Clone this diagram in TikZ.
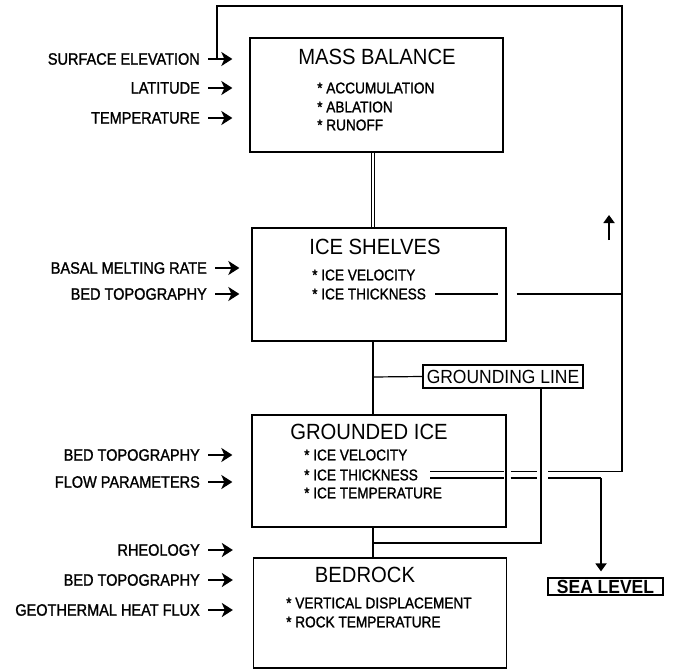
\documentclass[tikz,border=0pt]{standalone}
\usepackage{fontspec}
\setmainfont{Liberation Sans}
\newfontfamily\letterfont{Liberation Sans}[FakeStretch=0.88,FakeBold=1.3]
\newfontfamily\titlefont{Liberation Sans}[FakeStretch=0.92]
\usetikzlibrary{positioning,arrows.meta,calc}
\tikzset{
stage/.style={
draw,
line width=1.3pt,
minimum width=254pt,
inner sep=0pt
},
stagetitle/.style={
inner sep=0pt,
font=\titlefont\fontsize{22}{24}\selectfont
},
item/.style={
anchor=west,
inner sep=0pt,
font=\letterfont\fontsize{15.5}{17}\selectfont
},
input/.style={
anchor=east,
inner sep=3pt,
font=\letterfont\fontsize{16.5}{18}\selectfont
},
inarrow/.style={
-{Stealth[length=11pt,width=14pt,inset=3pt]},
line width=2.6pt,
shorten <=5pt,
shorten >=17pt
},
link/.style={
line width=1.2pt
},
flowarrow/.style={
-{Triangle[length=8pt,width=11pt]},
line width=1.8pt
},
tag/.style={
draw,
line width=1.2pt,
inner sep=0pt
}
}
\begin{document}
\begin{tikzpicture}[x=1pt,y=-1pt]
\useasboundingbox (0,0) rectangle (674,671);

% model components
\node[stage,minimum width=253pt,minimum height=114pt](mb) at (376.5,95){};
\node[stage,minimum height=113pt](is) at (379,284.5){};
\node[stage,minimum height=112pt](gi) at (379,471){};
\node[stage,minimum width=253pt,minimum height=110pt](br) at (380,613){};

\node[stagetitle](mbt) at (377,57){MASS BALANCE};
\node[stagetitle](ist) at (375,247){ICE SHELVES};
\node[stagetitle](git) at (369,432){GROUNDED ICE};
\node[stagetitle](brt) at (365,575){BEDROCK};

\node[item](mbacc) at (317,88){* ACCUMULATION};
\node[item](mbabl) at (317,107){* ABLATION};
\node[item](mbrun) at (317,125){* RUNOFF};
\node[item](isvel) at (312,275){* ICE VELOCITY};
\node[item](isthk) at (312,294){* ICE THICKNESS};
\node[item](givel) at (304,455){* ICE VELOCITY};
\node[item](githk) at (304,475){* ICE THICKNESS};
\node[item](gitmp) at (304,493){* ICE TEMPERATURE};
\node[item](brdsp) at (286,603){* VERTICAL DISPLACEMENT};
\node[item](brtmp) at (286,622){* ROCK TEMPERATURE};

\node[tag,minimum width=160pt,minimum height=23pt,font=\titlefont\fontsize{19}{20}\selectfont](gl) at (503,376.5){GROUNDING LINE};
\node[tag,minimum width=115pt,minimum height=17pt,font=\titlefont\fontsize{19}{20}\selectfont\bfseries](sl) at (605.5,586.5){SEA LEVEL};

% inputs
\node[input](mbse) at (203,59){SURFACE ELEVATION};
\node[input](mblat) at (203,88){LATITUDE};
\node[input](mbtemp) at (203,118){TEMPERATURE};
\node[input](isbmr) at (210,268){BASAL MELTING RATE};
\node[input](isbed) at (210,294){BED TOPOGRAPHY};
\node[input](gibed) at (203,455){BED TOPOGRAPHY};
\node[input](giflow) at (203,482){FLOW PARAMETERS};
\node[input](brrheo) at (203,550){RHEOLOGY};
\node[input](brbed) at (203,580){BED TOPOGRAPHY};
\node[input](brgeo) at (203,610){GEOTHERMAL HEAT FLUX};

\draw[inarrow](mbse)--(mbse -| mb.west);
\draw[inarrow](mblat)--(mblat -| mb.west);
\draw[inarrow](mbtemp)--(mbtemp -| mb.west);
\draw[inarrow,shorten >=12pt](isbmr)--(isbmr -| is.west);
\draw[inarrow,shorten >=12pt](isbed)--(isbed -| is.west);
\draw[inarrow,shorten >=19pt](gibed)--(gibed -| gi.west);
\draw[inarrow,shorten >=19pt](giflow)--(giflow -| gi.west);
\draw[inarrow,shorten >=20pt](brrheo)--(brrheo -| br.west);
\draw[inarrow,shorten >=20pt](brbed)--(brbed -| br.west);
\draw[inarrow,shorten >=20pt](brgeo)--(brgeo -| br.west);

% coupling
\coordinate (sp) at (373,377);
\coordinate (glx) at (541,543);
\coordinate (fbl) at (217,6);
\coordinate (fbr) at (622,6);
\coordinate (slx) at (601,478);
\coordinate (upt) at (609,240);

\draw[link,double,double distance=2pt](mb.south -| sp)--(is.north -| sp);
\draw[link](is.south -| sp)--(gi.north -| sp);
\draw[link](sp)--(gl.west);
\draw[link](gi.south -| sp)--(br.north -| sp);
\draw[link](gl.south -| glx)|-(sp |- glx);

\draw[link,shorten <=9pt,shorten >=9pt](isthk.east)--(isthk.east -| is.east);
\draw[link,shorten <=10pt](isthk.east -| is.east)--(isthk.east -| fbr);

% double line from grounded ice
\draw[link,shorten <=12pt,shorten >=3pt]([yshift=3.5pt]githk.east)--([yshift=3.5pt]githk.east -| gi.east);
\draw[link,shorten <=12pt,shorten >=3pt]([yshift=-3pt]githk.east)--([yshift=-3pt]githk.east -| gi.east);
\draw[link,shorten <=4pt,shorten >=4pt]([yshift=3.5pt]githk.east -| gi.east)--([yshift=3.5pt]githk.east -| glx);
\draw[link,shorten <=4pt,shorten >=4pt]([yshift=-3pt]githk.east -| gi.east)--([yshift=-3pt]githk.east -| glx);
\draw[link,shorten <=7pt]([yshift=3.5pt]githk.east -| glx)--([yshift=3.5pt]githk.east -| fbr)--(fbr)--(fbl)--(fbl |- mbse);
\draw[link,shorten <=7pt]([yshift=-3pt]githk.east -| glx)--(slx);
\draw[flowarrow,shorten >=6pt](slx)--(slx |- sl.north);

\draw[flowarrow](upt)--++(0,-25);
\end{tikzpicture}
\end{document}
